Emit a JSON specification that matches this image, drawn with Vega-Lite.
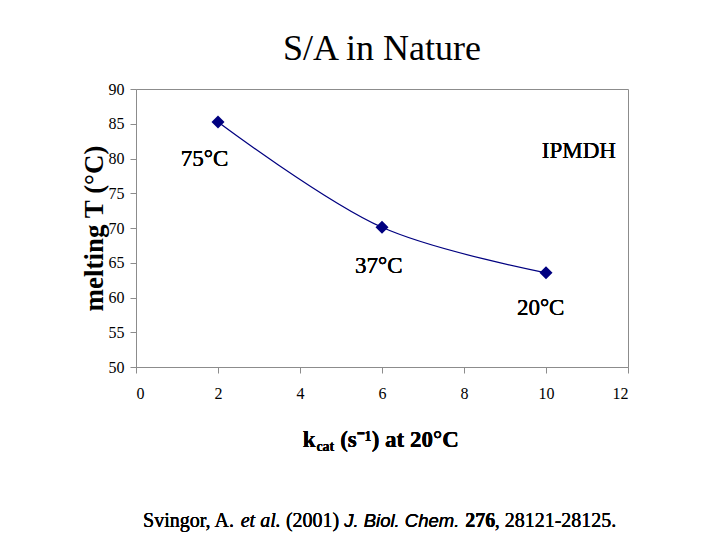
{
  "$schema": "https://vega.github.io/schema/vega-lite/v6.json",
  "width": 492,
  "height": 278,
  "autosize": {"type": "none"},
  "padding": {"left": 136, "top": 89, "right": 92, "bottom": 173},
  "background": "white",
  "title": {"text": "S/A in Nature", "fontSize": 36, "font": "Times New Roman, Liberation Serif, serif", "fontWeight": "normal", "color": "black", "offset": 13, "anchor": "middle"},
  "data": {"values": [
    {"kcat": 2, "tm": 85.25, "organism": "75°C"},
    {"kcat": 6, "tm": 70.1, "organism": "37°C"},
    {"kcat": 10, "tm": 63.55, "organism": "20°C"}
  ]},
  "layer": [
    {
      "mark": {"type": "line", "interpolate": "catmull-rom", "color": "#000080", "strokeWidth": 1.2},
      "encoding": {
        "x": {"field": "kcat", "type": "quantitative", "scale": {"domain": [0, 12], "nice": false, "zero": false},
              "axis": {"title": null, "values": [0, 2, 4, 6, 8, 10, 12], "labelPadding": 12, "labelOverlap": false}},
        "y": {"field": "tm", "type": "quantitative", "scale": {"domain": [50, 90], "nice": false, "zero": false},
              "axis": {"title": "melting T (°C)", "values": [50, 55, 60, 65, 70, 75, 80, 85, 90], "tickCount": 9, "labelPadding": 6,
                       "labelOverlap": false, "labelBound": false, "labelFlush": false, "labelSeparation": 0,
                       "titleFont": "Times New Roman, Liberation Serif, serif", "titleFontSize": 27, "titleFontWeight": "bold", "titlePadding": 0, "titleColor": "black"}}
      }
    },
    {
      "mark": {"type": "point", "shape": "diamond", "filled": true, "size": 170, "color": "#000080", "opacity": 1},
      "encoding": {
        "x": {"field": "kcat", "type": "quantitative"},
        "y": {"field": "tm", "type": "quantitative"}
      }
    },
    {"mark": {"type": "text", "text": "75°C", "font": "Times New Roman, Liberation Serif, serif", "fontSize": 23, "align": "center", "baseline": "alphabetic", "color": "black"},
     "encoding": {"x": {"datum": 1.67}, "y": {"datum": 78.92}}},
    {"mark": {"type": "text", "text": "37°C", "font": "Times New Roman, Liberation Serif, serif", "fontSize": 23, "align": "center", "baseline": "alphabetic", "color": "black"},
     "encoding": {"x": {"datum": 5.92}, "y": {"datum": 63.57}}},
    {"mark": {"type": "text", "text": "20°C", "font": "Times New Roman, Liberation Serif, serif", "fontSize": 23, "align": "center", "baseline": "alphabetic", "color": "black"},
     "encoding": {"x": {"datum": 9.87}, "y": {"datum": 57.48}}},
    {"mark": {"type": "text", "text": "IPMDH", "font": "Times New Roman, Liberation Serif, serif", "fontSize": 23, "align": "center", "baseline": "alphabetic", "color": "black"},
     "encoding": {"x": {"datum": 10.8}, "y": {"datum": 80.03}}},
    {"mark": {"type": "text", "text": "k", "font": "Times New Roman, Liberation Serif, serif", "fontSize": 23, "fontWeight": "bold", "align": "left", "baseline": "alphabetic", "color": "black"},
     "encoding": {"x": {"datum": 4.07}, "y": {"datum": 38.49}}},
    {"mark": {"type": "text", "text": "cat", "font": "Times New Roman, Liberation Serif, serif", "fontSize": 14, "fontWeight": "bold", "align": "left", "baseline": "alphabetic", "color": "black"},
     "encoding": {"x": {"datum": 4.4}, "y": {"datum": 37.91}}},
    {"mark": {"type": "text", "text": "(s⁻¹) at 20°C", "font": "Times New Roman, Liberation Serif, serif", "fontSize": 23, "fontWeight": "bold", "align": "left", "baseline": "alphabetic", "color": "black"},
     "encoding": {"x": {"datum": 4.98}, "y": {"datum": 38.49}}},
    {"mark": {"type": "text", "text": "Svingor, A.", "font": "Times New Roman, Liberation Serif, serif", "fontSize": 20, "align": "left", "baseline": "alphabetic", "color": "black"},
     "encoding": {"x": {"datum": 0.171}, "y": {"datum": 26.98}}},
    {"mark": {"type": "text", "text": "et al.", "font": "Times New Roman, Liberation Serif, serif", "fontSize": 20, "fontStyle": "italic", "align": "left", "baseline": "alphabetic", "color": "black"},
     "encoding": {"x": {"datum": 2.554}, "y": {"datum": 26.98}}},
    {"mark": {"type": "text", "text": "(2001)", "font": "Times New Roman, Liberation Serif, serif", "fontSize": 20, "align": "left", "baseline": "alphabetic", "color": "black"},
     "encoding": {"x": {"datum": 3.656}, "y": {"datum": 26.98}}},
    {"mark": {"type": "text", "text": "J. Biol. Chem.", "font": "Liberation Sans", "fontSize": 18.5, "fontStyle": "italic", "align": "left", "baseline": "alphabetic", "color": "black"},
     "encoding": {"x": {"datum": 5.078}, "y": {"datum": 26.98}}},
    {"mark": {"type": "text", "text": "276", "font": "Times New Roman, Liberation Serif, serif", "fontSize": 20, "fontWeight": "bold", "align": "left", "baseline": "alphabetic", "color": "black"},
     "encoding": {"x": {"datum": 8.03}, "y": {"datum": 26.98}}},
    {"mark": {"type": "text", "text": ", 28121-28125.", "font": "Times New Roman, Liberation Serif, serif", "fontSize": 20, "align": "left", "baseline": "alphabetic", "color": "black"},
     "encoding": {"x": {"datum": 8.749}, "y": {"datum": 26.98}}}
  ],
  "config": {
    "view": {"stroke": "#8c8c8c", "strokeWidth": 1},
    "axis": {"grid": false, "domainColor": "#8c8c8c", "tickColor": "#8c8c8c", "tickSize": 6, "labelOverlap": false,
             "labelFont": "Times New Roman, Liberation Serif, serif", "labelFontSize": 16, "labelColor": "black"},
    "axisY": {"labelOverlap": false},
    "font": "Times New Roman, Liberation Serif, serif"
  }
}
